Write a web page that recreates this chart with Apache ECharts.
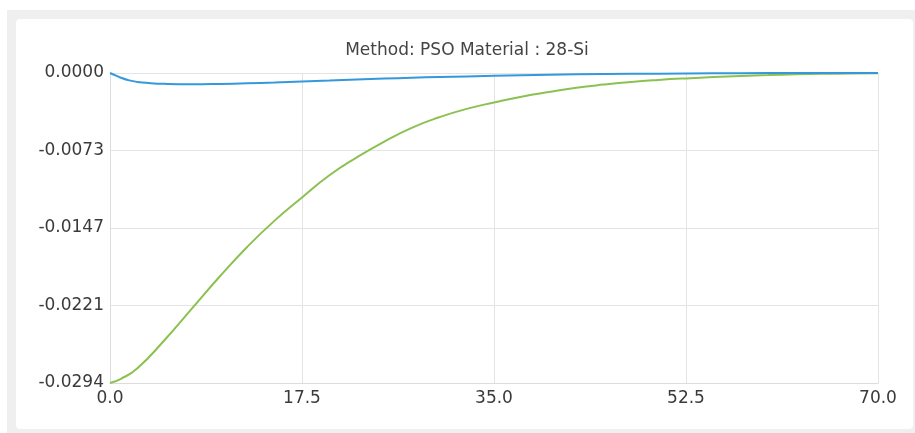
<!DOCTYPE html>
<html>
<head>
<meta charset="utf-8">
<script src="https://cdn.jsdelivr.net/npm/echarts@6/dist/echarts.min.js"></script>
<style>
  html, body { margin: 0; padding: 0; background: #ffffff; overflow: hidden; }
  #frame { position: absolute; left: 7px; top: 10px; width: 920px; height: 430px; background: #efefef; }
  #card { position: absolute; left: 16px; top: 19px; width: 897px; height: 410px; background: #ffffff; border-radius: 4px; }
  #chart { position: absolute; left: 0; top: 0; width: 915px; height: 433px; }
</style>
</head>
<body>
<div id="frame"></div>
<div id="card"></div>
<div id="chart"></div>
<script>
const titleText = 'Method: PSO Material : 28-Si';

const greenX = [0, 1, 2.5, 5, 7.5, 10, 12.5, 15, 17.5, 20, 22.5, 25, 27.5, 30, 32.5, 35, 37.5, 40, 42.5, 45, 47.5, 50, 52.5, 55, 57.5, 60, 62.5, 65, 67.5, 70];
const greenY = [-0.0294, -0.0290, -0.0280, -0.0253, -0.0223, -0.0193, -0.0165, -0.0140, -0.0118, -0.0097, -0.0080, -0.0065, -0.0052, -0.0042, -0.0034, -0.0028, -0.00225, -0.0018, -0.0014, -0.0011, -0.00085, -0.00066, -0.00051, -0.00039, -0.00028, -0.0002, -0.00013, -0.00008, -0.00005, -0.00003];

const blueX = [0, 0.5, 1, 1.75, 2.5, 3.5, 5, 7.5, 10, 12.5, 15, 17.5, 20, 22.5, 25, 27.5, 30, 35, 40, 45, 50, 55, 60, 65, 70];
const blueY = [0, -0.00022, -0.00045, -0.0007, -0.00085, -0.00095, -0.00103, -0.00107, -0.00104, -0.00098, -0.0009, -0.0008, -0.00072, -0.00062, -0.00053, -0.00045, -0.00038, -0.00027, -0.00017, -0.0001, -0.00006, -0.00003, -0.00001, 0, 0];

const yTickLabels = ['-0.0294', '-0.0221', '-0.0147', '-0.0073', '0.0000'];
const yMin = -0.0294, yMax = 0, yInterval = 0.00735;
const xMin = 0, xMax = 70, xInterval = 17.5;

const pairs = (xs, ys) => xs.map((x, i) => [x, ys[i]]);

const chart = echarts.init(document.getElementById('chart'), null, { renderer: 'canvas' });
const font = 'DejaVu Sans';
chart.setOption({
  backgroundColor: 'transparent',
  animation: false,
  graphic: [{
    type: 'text', x: 467, y: 51,
    style: { text: titleText, textAlign: 'center', textVerticalAlign: 'middle',
             fontFamily: font, fontSize: 17, fill: '#444' }
  }],
  grid: { left: 110, right: 37, top: 73, bottom: 50, containLabel: false },
  xAxis: {
    type: 'value', min: xMin, max: xMax, interval: xInterval,
    axisLine: { show: true, onZero: false, lineStyle: { color: '#dcdcdc', width: 1 } },
    axisTick: { show: false },
    splitLine: { show: true, lineStyle: { color: '#e4e4e4', width: 1 } },
    axisLabel: { margin: 7, fontFamily: font, fontSize: 17, color: '#3a3a3a',
                 formatter: v => v.toFixed(1) }
  },
  yAxis: {
    type: 'value', min: yMin, max: yMax, interval: yInterval,
    axisLine: { show: true, lineStyle: { color: '#dcdcdc', width: 1 } },
    axisTick: { show: false },
    splitLine: { show: true, lineStyle: { color: '#e4e4e4', width: 1 } },
    axisLabel: { margin: 6, fontFamily: font, fontSize: 17, color: '#3a3a3a',
                 formatter: v => yTickLabels[Math.round((v - yMin) / yInterval)] }
  },
  series: [
    { type: 'line', name: 'green', data: pairs(greenX, greenY), smooth: 0.5, showSymbol: false,
      lineStyle: { color: '#8cc152', width: 2 }, itemStyle: { color: '#8cc152' } },
    { type: 'line', name: 'blue', data: pairs(blueX, blueY), smooth: 0.5, showSymbol: false,
      lineStyle: { color: '#3498db', width: 2 }, itemStyle: { color: '#3498db' } }
  ]
});
</script>
</body>
</html>
